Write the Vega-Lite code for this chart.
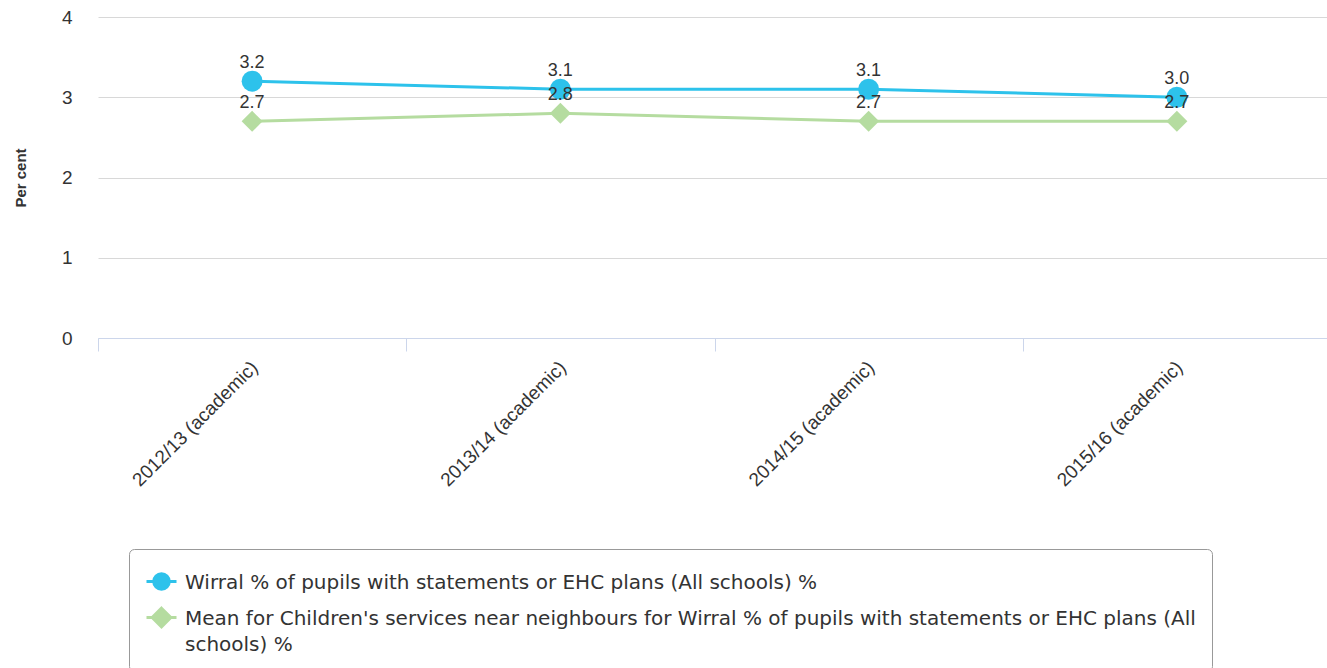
{
  "$schema": "https://vega.github.io/schema/vega-lite/v6.json",
  "autosize": {"type": "none"},
  "width": 1233,
  "height": 321,
  "padding": {"left": 98, "top": 17, "right": 0, "bottom": 330},
  "background": "white",
  "config": {
    "font": "Liberation Sans",
    "view": {"stroke": null},
    "axis": {"labelFont": "Liberation Sans", "titleFont": "Liberation Sans"}
  },
  "data": {
    "values": [
      {"year": "2012/13 (academic)", "series": "Wirral % of pupils with statements or EHC plans (All schools) %", "value": 3.2},
      {"year": "2013/14 (academic)", "series": "Wirral % of pupils with statements or EHC plans (All schools) %", "value": 3.1},
      {"year": "2014/15 (academic)", "series": "Wirral % of pupils with statements or EHC plans (All schools) %", "value": 3.1},
      {"year": "2015/16 (academic)", "series": "Wirral % of pupils with statements or EHC plans (All schools) %", "value": 3.0},
      {"year": "2012/13 (academic)", "series": "Mean for Children's services near neighbours for Wirral % of pupils with statements or EHC plans (All schools) %", "value": 2.7},
      {"year": "2013/14 (academic)", "series": "Mean for Children's services near neighbours for Wirral % of pupils with statements or EHC plans (All schools) %", "value": 2.8},
      {"year": "2014/15 (academic)", "series": "Mean for Children's services near neighbours for Wirral % of pupils with statements or EHC plans (All schools) %", "value": 2.7},
      {"year": "2015/16 (academic)", "series": "Mean for Children's services near neighbours for Wirral % of pupils with statements or EHC plans (All schools) %", "value": 2.7}
    ]
  },
  "encoding": {
    "x": {
      "field": "year", "type": "nominal",
      "scale": {"type": "band", "paddingInner": 0, "paddingOuter": 0},
      "axis": {
        "title": null, "labelAngle": -45, "labelAlign": "right", "labelBaseline": "middle",
        "labelFontSize": 19, "labelColor": "#333333", "labelPadding": 13, "labelOffset": 2,
        "tickBand": "extent", "tickSize": 13, "tickColor": "#ccd6eb", "domainColor": "#ccd6eb",
        "grid": false
      }
    },
    "y": {
      "field": "value", "type": "quantitative",
      "scale": {"domain": [0, 4]},
      "axis": {
        "title": "Per cent", "titleFontSize": 15, "titleFontWeight": "bold", "titleColor": "#333333",
        "titlePadding": 33, "values": [0, 1, 2, 3, 4], "labelFontSize": 19, "labelColor": "#333333",
        "labelPadding": 26, "ticks": false, "domain": false, "gridColor": "#d8d8d8"
      }
    },
    "color": {
      "field": "series", "type": "nominal",
      "scale": {
        "domain": ["Wirral % of pupils with statements or EHC plans (All schools) %", "Mean for Children's services near neighbours for Wirral % of pupils with statements or EHC plans (All schools) %"],
        "range": ["#2dc2eb", "#b5dca0"]
      },
      "legend": null
    }
  },
  "layer": [
    {
      "mark": {"type": "line", "strokeWidth": 3},
      "encoding": {
        "color": {
          "field": "series", "type": "nominal",
          "legend": {
            "orient": "none", "legendX": 31, "legendY": 532, "title": null,
            "direction": "vertical",
            "strokeColor": "#999999", "cornerRadius": 5, "padding": 16,
            "labelFont": "DejaVu Sans", "labelFontSize": 20, "labelColor": "#333333", "labelLimit": 1200, "labelOffset": 7,
            "labelBaseline": "alphabetic", "rowPadding": 5,
            "symbolSize": 900, "symbolStrokeWidth": 3, "symbolType": "stroke",
            "labelExpr": "indexof(datum.label, 'Mean') == 0 ? [replace(datum.label, ' schools) %', ''), 'schools) %'] : datum.label",
            "encode": {
              "labels": {"update": {"dy": {"value": 7}, "lineHeight": {"value": 26}}},
              "symbols": {"update": {
                "shape": {"signal": "indexof(datum.value, 'Mean') == 0 ? 'M-1,0H1M0,-0.62L0.62,0L0,0.62L-0.62,0Z' : 'M-1,0H1M-0.52,0A0.52,0.52,0,1,0,0.52,0A0.52,0.52,0,1,0,-0.52,0Z'"},
                "fill": {"scale": "color", "field": "value"},
                "stroke": {"scale": "color", "field": "value"},
                "opacity": {"value": 1}
              }}
            }
          }
        }
      }
    },
    {
      "transform": [{"filter": "indexof(datum.series, 'Wirral') == 0"}],
      "mark": {"type": "point", "filled": true, "opacity": 1, "shape": "circle", "size": 440}
    },
    {
      "transform": [{"filter": "indexof(datum.series, 'Mean') == 0"}],
      "mark": {"type": "point", "filled": true, "opacity": 1, "shape": "diamond", "size": 440}
    },
    {
      "mark": {"type": "text", "dy": -18, "fontSize": 18, "color": "#333333"},
      "encoding": {
        "text": {"field": "value", "type": "quantitative", "format": ".1f"},
        "color": {"value": "#333333"}
      }
    }
  ]
}
